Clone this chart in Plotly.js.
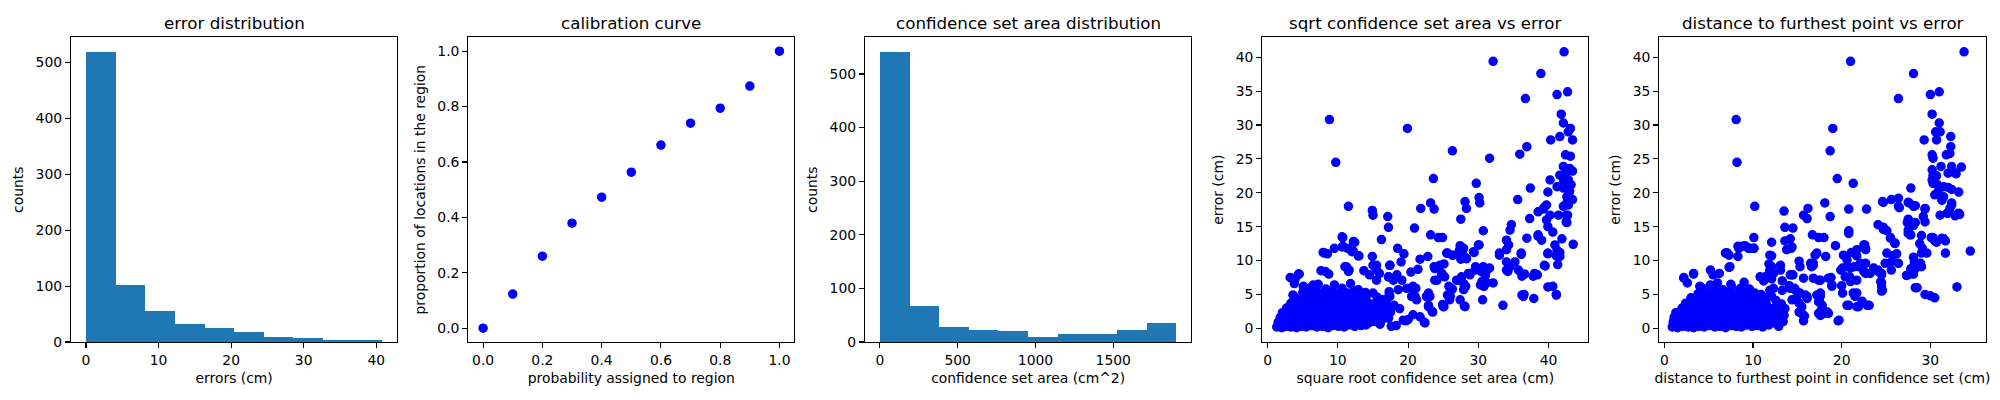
<!DOCTYPE html>
<html>
<head>
<meta charset="utf-8">
<script src="https://cdn.plot.ly/plotly-3.0.1.min.js"></script>
<style>html,body{margin:0;padding:0;background:#fff;}#chart{width:2000px;height:400px;}</style>
</head>
<body>
<div id="chart"></div>
<script>
// ---------- data ----------
const panelTitles = ["error distribution", "calibration curve", "confidence set area distribution", "sqrt confidence set area vs error", "distance to furthest point vs error"];

// Panel 1: histogram of errors (cm)
const errorBinEdges = [0.05, 4.12, 8.19, 12.26, 16.33, 20.40, 24.46, 28.53, 32.60, 36.67, 40.74];
const errorCounts = [519, 102, 55, 32, 25, 18, 9, 7, 4, 4];

// Panel 2: calibration curve
const probAssigned = [0.0, 0.1, 0.2, 0.3, 0.4, 0.5, 0.6, 0.7, 0.8, 0.9, 1.0];
const propInRegion = [0.0, 0.123, 0.26, 0.379, 0.473, 0.563, 0.661, 0.740, 0.794, 0.874, 1.0];

// Panel 3: histogram of confidence set area (cm^2)
const areaBinEdges = [0, 190.6, 381.2, 571.8, 762.4, 953.0, 1143.6, 1334.2, 1524.8, 1715.4, 1906.0];
const areaCounts = [541, 67, 28, 22, 20, 9, 15, 15, 22, 35];

// Panel 4: [sqrt confidence set area (cm), error (cm)]
const sqrtAreaVsError = [
[32.1,39.4],[42.2,40.8],[38.9,37.6],[41.2,34.5],[42.7,34.9],[36.7,33.9],[8.8,30.8],[19.9,29.5],[41.8,31.6],[42.1,30.3],
[43.1,29.5],[42.8,29.0],[41.6,28.3],[43.4,27.8],[40.3,27.8],[36.9,26.8],[26.3,26.2],[35.9,25.7],[31.6,25.1],[42.4,25.6],
[43.1,25.4],[9.7,24.5],[42.1,23.9],[43.0,23.6],[42.6,23.1],[43.4,23.2],[41.6,22.6],[42.3,22.4],[42.8,21.9],[42.1,21.6],
[42.6,21.2],[43.2,21.2],[42.1,20.7],[43.0,20.2],[42.6,19.4],[43.4,19.0],[42.6,18.5],[42.1,18.0],[23.6,22.1],[40.2,21.9],
[29.7,21.4],[41.2,20.9],[37.4,20.7],[39.9,20.1],[30.1,19.3],[30.2,18.5],[35.6,19.0],[28.1,18.7],[28.3,17.7],[23.2,18.5],
[23.7,17.6],[21.8,17.7],[11.5,18.0],[14.9,17.4],[15.0,16.7],[17.1,16.5],[39.7,18.2],[39.2,17.6],[38.5,17.2],[40.2,16.7],
[41.4,16.7],[42.7,16.7],[42.6,15.6],[37.3,16.2],[27.5,16.1],[17.2,14.9],[20.9,14.8],[30.7,14.4],[39.7,16.0],[39.9,15.0],
[40.6,14.2],[34.7,15.3],[34.5,14.5],[23.2,13.8],[24.3,13.4],[24.9,13.4],[10.7,13.4],[16.2,13.1],[12.4,12.7],[38.5,13.8],
[39.0,13.0],[36.9,13.3],[41.9,13.2],[43.5,12.4],[34.0,13.0],[34.3,12.3],[27.4,12.2],[27.3,11.5],[30.1,12.3],[10.7,12.1],
[11.4,11.8],[9.5,11.8],[8.1,11.1],[8.5,11.0],[18.5,11.8],[12.2,11.4],[40.9,12.3],[41.2,11.5],[41.6,11.2],[39.9,11.0],
[41.1,10.7],[41.6,10.6],[25.6,11.1],[26.3,10.8],[29.4,11.2],[36.1,10.9],[33.0,10.8],[19.4,11.0],[13.0,10.7],[14.9,10.6],
[22.8,10.6],[21.7,10.2],[28.0,10.6],[28.3,10.3],[27.5,10.2],[19.0,9.8],[17.4,9.3],[15.0,9.3],[15.5,8.6],[11.2,9.1],
[11.5,8.4],[29.6,9.1],[30.7,9.1],[31.2,8.6],[31.6,8.9],[34.0,9.8],[35.2,9.8],[34.5,9.1],[34.0,8.6],[35.7,8.6],
[39.5,9.2],[41.3,9.4],[25.1,9.5],[23.7,9.1],[24.0,8.9],[21.4,8.7],[13.7,8.5],[8.2,8.4],[15.9,8.1],[14.5,7.9],
[28.6,8.1],[24.8,8.1],[25.2,7.6],[36.2,7.7],[36.6,8.0],[38.0,8.1],[38.4,7.9],[20.4,8.3],[3.2,7.5],[3.9,7.2],
[4.5,8.0],[27.6,7.6],[27.4,7.1],[17.2,7.6],[17.9,7.1],[23.8,7.1],[30.8,7.1],[31.2,6.7],[32.1,6.7],[30.3,6.4],
[30.8,6.2],[25.8,6.2],[26.3,5.8],[20.7,6.2],[21.1,5.9],[6.5,6.4],[5.1,6.2],[39.9,6.1],[40.6,6.2],[28.2,6.2],
[27.9,5.7],[17.3,5.4],[17.3,4.9],[3.6,4.9],[41.1,5.0],[36.2,4.9],[36.4,4.7],[25.6,4.9],[26.0,4.7],[22.9,5.2],
[23.1,4.7],[21.0,4.7],[37.9,4.4],[30.6,4.2],[22.9,3.4],[24.9,3.5],[25.1,3.2],[33.5,3.4],[28.0,3.3],[23.5,2.4],
[20.0,1.3],[19.7,1.1],[22.3,0.9],[10.6,13.5],[12.2,12.8],[10.6,12.0],[7.9,11.2],[12.0,11.3],[12.9,10.7],[11.0,9.1],
[11.6,8.6],[7.6,8.5],[8.7,8.0],[4.4,8.0],[3.4,7.4],[3.8,6.6],[5.1,6.1],[3.7,4.8],[15.5,9.3],[17.4,9.3],
[15.5,7.1],[17.2,7.6],[18.4,7.9],[19.1,7.1],[18.6,5.7],[19.8,5.9],[20.7,5.9],[20.5,4.7],[21.2,4.2],[17.4,4.7],
[15.0,5.2],[16.9,3.7],[18.8,2.9],[20.7,2.0],[19.3,1.2],[21.7,1.7],[22.4,0.8],[16.0,0.7],[17.2,1.5],[15.0,2.2],
[22.9,3.2],[22.6,4.7],[24.1,7.1],[24.8,7.9],[23.8,8.8],[24.5,9.3],[25.5,11.1],[26.4,10.8],[27.4,10.8],[28.3,10.3],
[27.9,11.8],[29.3,11.3],[30.0,12.3],[29.5,8.6],[28.8,7.9],[27.9,6.6],[26.9,7.1],[26.2,5.7],[25.9,4.2],[27.4,4.2],
[28.1,3.2],[25.0,3.2],[23.4,2.5],[34.0,11.6],[33.0,11.1],[36.1,11.1],[34.2,8.4],[37.8,7.7],[39.4,9.3],[39.9,11.1],
[38.5,13.6],[41.1,4.9],[36.5,5.0],[30.4,8.4],[31.0,7.8],[30.5,6.9],[39.4,17.9],[42.5,16.7],[42.8,18.2],[42.5,15.7],
[1.3,0.2],[2.0,0.1],[2.6,0.3],[3.3,0.2],[4.1,0.1],[4.8,0.3],[5.5,0.2],[6.3,0.4],[7.0,0.2],[7.8,0.3],
[8.6,0.1],[9.3,0.4],[10.1,0.3],[10.9,0.2],[11.6,0.5],[12.4,0.3],[13.3,0.4],[14.0,0.5],[17.6,0.3],[18.3,0.4],
[1.5,0.9],[2.2,1.0],[2.9,0.8],[3.7,1.1],[4.4,0.9],[5.2,0.7],[5.9,1.0],[6.7,0.9],[7.4,1.2],[8.2,0.8],
[9.0,1.0],[9.7,0.9],[10.5,1.1],[11.3,0.8],[12.0,1.0],[12.8,0.9],[13.6,1.2],[14.4,0.8],[15.2,1.0],[16.0,0.6],
[1.8,1.6],[2.5,1.8],[3.2,1.5],[4.0,1.7],[4.7,1.6],[5.5,1.9],[6.2,1.4],[7.0,1.7],[7.7,1.8],[8.5,1.5],
[9.3,1.6],[10.0,1.9],[10.8,1.5],[11.6,1.7],[12.3,1.6],[13.1,1.8],[13.9,1.5],[14.7,1.7],[15.5,1.9],[16.4,1.4],[17.2,1.6],
[2.1,2.3],[2.8,2.1],[3.5,2.5],[4.3,2.2],[5.0,2.4],[5.8,2.3],[6.5,2.6],[7.3,2.2],[8.0,2.4],[8.8,2.5],
[9.6,2.3],[10.3,2.1],[11.1,2.6],[11.9,2.3],[12.6,2.4],[13.4,2.2],[14.2,2.5],[15.0,2.3],[15.8,2.1],[16.6,2.6],[17.5,2.4],
[2.7,3.0],[3.4,3.2],[4.1,2.9],[4.9,3.1],[5.6,3.0],[6.4,3.3],[7.1,2.9],[7.9,3.1],[8.7,3.2],[9.4,3.0],
[10.2,2.9],[11.0,3.3],[11.7,3.1],[12.5,3.0],[13.3,3.2],[14.1,2.9],[15.0,3.1],[15.9,3.0],[16.8,3.3],[18.0,3.4],
[3.3,3.7],[4.0,3.9],[4.8,3.6],[5.5,3.8],[6.3,3.7],[7.0,4.0],[7.8,3.6],[8.6,3.8],[9.3,3.9],[10.1,3.7],
[10.9,3.6],[11.6,3.9],[12.4,3.8],[13.2,3.7],[14.0,4.0],[14.9,3.6],[15.8,3.8],[16.4,4.2],
[3.9,4.5],[4.7,4.3],[5.4,4.6],[6.2,4.4],[6.9,4.7],[7.7,4.5],[8.5,4.3],[9.2,4.6],[10.0,4.4],[10.8,4.7],
[11.5,4.5],[12.3,4.3],[13.1,4.6],[14.0,4.4],[15.6,4.6],
[5.0,5.3],[5.8,5.1],[6.6,5.4],[7.4,5.2],[8.2,5.5],[9.0,5.3],[9.8,5.1],[10.6,5.4],[11.4,5.2],[12.3,5.5],[13.2,5.0],[13.9,5.3],
[6.1,6.0],[7.2,6.5],[8.3,5.8],[9.5,6.4],[10.6,5.9],[11.8,6.6],[12.9,5.7]
];

// Panel 5: [distance to furthest point in confidence set (cm), error (cm)]
const furthestVsError = [
[33.8,40.8],[21.0,39.4],[28.1,37.6],[26.4,33.9],[30.0,34.5],[31.0,34.9],[8.1,30.8],[19.0,29.5],[30.2,31.6],[31.0,30.3],
[31.1,29.0],[30.6,29.0],[32.3,28.3],[29.3,27.8],[30.7,27.8],[32.3,26.8],[32.2,25.8],[31.8,25.6],[18.7,26.2],[30.2,25.6],
[30.3,25.1],[8.2,24.5],[31.2,23.9],[32.4,23.9],[33.5,23.8],[32.6,23.1],[32.0,22.9],[32.9,22.8],[30.2,23.4],[30.3,22.6],
[30.7,22.5],[19.5,22.1],[21.3,21.4],[30.2,21.9],[30.3,21.4],[30.8,21.2],[31.5,20.9],[32.0,20.8],[32.4,20.5],[33.2,20.1],
[30.9,20.2],[27.8,20.7],[30.5,19.7],[31.3,19.0],[31.5,19.4],[24.6,18.7],[25.6,19.0],[26.4,19.2],[26.5,17.8],[22.8,17.6],
[20.8,17.6],[18.1,18.5],[10.2,18.0],[27.6,18.5],[28.3,18.1],[29.4,17.6],[32.4,18.5],[32.2,17.7],[31.9,17.0],[32.8,16.6],
[33.3,16.8],[31.1,16.7],[13.5,17.3],[15.7,16.7],[16.1,16.2],[16.2,17.7],[18.7,16.5],[29.2,16.5],[29.4,15.7],[27.4,15.6],
[28.1,15.2],[13.6,14.9],[14.5,14.8],[20.8,14.4],[24.7,14.9],[25.1,14.4],[27.5,14.5],[27.8,13.8],[16.7,13.8],[17.4,13.4],
[18.0,13.4],[10.1,13.4],[14.2,13.2],[13.6,12.9],[25.5,13.3],[26.0,12.5],[29.0,13.7],[30.3,13.4],[31.5,13.2],[31.7,12.9],
[30.5,12.9],[28.8,12.5],[29.1,11.8],[12.1,12.7],[22.6,12.3],[22.7,11.8],[19.3,12.2],[8.3,12.1],[9.1,12.2],[9.7,11.8],
[10.1,11.8],[14.3,11.8],[17.2,11.1],[17.0,10.8],[31.7,11.1],[7.0,11.1],[7.3,10.8],[21.1,11.2],[21.7,10.7],[34.5,11.4],
[12.1,10.7],[16.8,9.6],[16.6,9.1],[28.1,10.5],[28.2,9.8],[18.2,10.6],[26.2,11.0],[25.8,10.7],[25.6,9.8],[15.2,9.9],
[15.3,9.1],[11.8,9.5],[22.1,9.6],[28.5,9.3],[28.9,9.6],[28.1,9.1],[27.8,8.8],[24.1,8.6],[24.5,8.1],[20.1,8.9],
[20.6,9.1],[7.4,9.1],[21.4,9.1],[21.0,8.9],[11.9,8.6],[12.3,8.1],[11.7,7.9],[27.3,7.8],[28.1,8.0],[5.2,8.6],
[5.5,7.9],[14.2,7.9],[14.5,7.9],[10.8,7.6],[11.4,7.6],[11.2,7.0],[2.2,7.5],[2.6,6.7],[3.3,8.0],[18.8,7.5],
[16.8,7.4],[20.9,7.6],[22.7,8.1],[23.2,8.1],[17.4,7.1],[20.0,6.3],[24.4,6.9],[24.5,6.2],[24.6,5.6],[18.9,6.2],
[14.1,6.3],[14.7,5.9],[4.0,6.2],[5.2,6.4],[17.6,5.2],[17.6,4.8],[16.1,4.7],[28.3,6.0],[29.4,5.0],[30.0,4.8],
[30.5,4.5],[33.0,6.1],[20.1,5.2],[21.3,5.2],[21.5,4.7],[12.1,4.7],[14.9,4.4],[20.6,3.4],[21.7,3.2],[22.3,4.0],
[23.1,3.4],[17.5,4.0],[17.7,2.7],[18.1,2.5],[18.5,2.2],[17.4,2.2],[15.5,2.2],[15.8,1.8],[19.6,1.1],[13.4,1.0],
[15.7,1.1],[10.1,11.8],[9.5,11.8],[8.8,12.1],[8.4,11.8],[8.3,10.6],[7.1,11.1],[6.9,11.1],[7.3,9.0],[6.2,8.1],
[3.3,8.1],[2.2,7.4],[4.1,6.1],[14.4,12.0],[13.8,11.6],[11.9,10.8],[16.5,9.6],[16.8,9.3],[13.1,9.3],[13.1,8.6],
[12.1,9.1],[14.4,7.9],[15.7,7.4],[17.6,7.1],[18.5,7.4],[18.9,6.4],[13.3,7.0],[12.1,7.3],[12.3,5.9],[13.3,5.6],
[14.2,5.9],[14.8,5.6],[15.3,5.2],[15.9,4.9],[16.1,4.4],[14.4,4.2],[15.2,3.7],[15.5,3.2],[13.6,2.9],[15.2,2.4],
[15.7,1.9],[13.5,1.9],[13.1,1.0],[12.1,1.5],[17.2,4.9],[17.4,3.9],[17.8,3.4],[18.0,2.2],[17.6,1.9],[18.4,2.4],
[19.7,1.2],[19.9,8.6],[20.2,10.8],[20.6,10.1],[21.5,11.1],[21.7,11.6],[22.5,12.3],[22.7,11.6],[20.4,7.6],[21.0,6.9],
[21.7,7.1],[21.9,9.1],[22.7,9.6],[22.5,8.4],[23.6,8.9],[20.8,14.0],[21.7,5.2],[20.8,3.4],[21.9,3.2],[22.9,3.4],
[24.7,18.6],[26.4,18.0],[27.5,18.6],[28.1,18.0],[29.4,17.7],[31.3,18.9],[32.4,18.2],[32.0,17.0],[33.2,17.0],[27.5,16.1],
[28.3,15.6],[24.1,15.3],[24.7,14.6],[25.5,13.4],[26.0,12.6],[27.5,14.0],[27.7,13.8],[30.1,13.4],[30.7,12.7],[31.3,13.3],
[25.1,11.1],[24.9,9.6],[26.4,9.6],[25.6,8.6],[24.1,8.4],[24.5,7.9],[24.5,6.7],[24.5,5.5],[28.6,9.6],[29.0,9.1],
[28.3,8.8],[27.5,7.9],[29.0,11.1],[29.6,11.1],[28.5,6.0],
[0.9,0.2],[1.5,0.1],[2.1,0.3],[2.7,0.2],[3.3,0.1],[3.9,0.3],[4.5,0.2],[5.1,0.4],[5.7,0.2],[6.3,0.3],
[6.9,0.1],[7.5,0.4],[8.1,0.3],[8.7,0.2],[9.3,0.5],[9.9,0.3],[10.5,0.4],[11.1,0.2],[11.8,0.5],[12.9,0.3],
[1.0,0.9],[1.6,1.0],[2.2,0.8],[2.8,1.1],[3.4,0.9],[4.0,0.7],[4.6,1.0],[5.2,0.9],[5.8,1.2],[6.4,0.8],
[7.0,1.0],[7.6,0.9],[8.2,1.1],[8.8,0.8],[9.4,1.0],[10.0,0.9],[10.6,1.2],[11.2,0.8],[11.9,1.0],[12.6,0.7],
[1.1,1.6],[1.7,1.8],[2.3,1.5],[2.9,1.7],[3.5,1.6],[4.1,1.9],[4.7,1.4],[5.3,1.7],[5.9,1.8],[6.5,1.5],
[7.1,1.6],[7.7,1.9],[8.3,1.5],[8.9,1.7],[9.5,1.6],[10.1,1.8],[10.7,1.5],[11.4,1.7],[12.1,1.9],[12.8,1.4],
[1.3,2.3],[1.9,2.1],[2.5,2.5],[3.1,2.2],[3.7,2.4],[4.3,2.3],[4.9,2.6],[5.5,2.2],[6.1,2.4],[6.7,2.5],
[7.3,2.3],[7.9,2.1],[8.5,2.6],[9.1,2.3],[9.7,2.4],[10.3,2.2],[10.9,2.5],[11.6,2.3],[12.3,2.1],[13.0,2.6],
[2.0,3.0],[2.6,3.2],[3.2,2.9],[3.8,3.1],[4.4,3.0],[5.0,3.3],[5.6,2.9],[6.2,3.1],[6.8,3.2],[7.4,3.0],
[8.0,2.9],[8.6,3.3],[9.2,3.1],[9.8,3.0],[10.4,3.2],[11.0,2.9],[11.7,3.1],[12.4,3.0],[13.2,3.6],
[2.4,3.7],[3.0,3.9],[3.6,3.6],[4.2,3.8],[4.8,3.7],[5.4,4.0],[6.0,3.6],[6.6,3.8],[7.2,3.9],[7.8,3.7],
[8.4,3.6],[9.0,3.9],[9.6,3.8],[10.2,3.7],[10.8,4.0],[11.5,3.6],[12.6,4.1],
[3.0,4.5],[3.7,4.3],[4.4,4.6],[5.1,4.4],[5.8,4.7],[6.5,4.5],[7.2,4.3],[7.9,4.6],[8.6,4.4],[9.3,4.7],[10.0,4.5],[10.7,4.3],[11.6,4.6],
[3.8,5.1],[4.6,5.3],[5.4,5.0],[6.2,5.2],[7.0,5.4],[7.8,5.1],[8.6,5.3],[9.4,5.0],[10.2,5.2],[10.9,5.0],
[4.6,5.8],[5.6,6.0],[6.6,5.7],[7.6,6.1],[8.6,5.9],[9.6,5.8],[6.0,6.7],[7.5,6.5],[9.0,6.8],[11.9,5.6]
];

// ---------- build traces ----------
function histTrace(edges, counts, xa, ya) {
  const centers = [], widths = [];
  for (let i = 0; i < counts.length; i++) {
    centers.push((edges[i] + edges[i + 1]) / 2);
    widths.push(edges[i + 1] - edges[i]);
  }
  return {type: 'bar', x: centers, y: counts, width: widths, xaxis: xa, yaxis: ya,
          marker: {color: '#1f77b4', line: {width: 0}}, hoverinfo: 'x+y'};
}
function dotTrace(xs, ys, xa, ya) {
  return {type: 'scatter', mode: 'markers', x: xs, y: ys, xaxis: xa, yaxis: ya,
          marker: {color: '#0000ff', size: 8.3, line: {color: '#0000ff', width: 1.2}}};
}
const traces = [
  histTrace(errorBinEdges, errorCounts, 'x', 'y'),
  dotTrace(probAssigned, propInRegion, 'x2', 'y2'),
  histTrace(areaBinEdges, areaCounts, 'x3', 'y3'),
  dotTrace(sqrtAreaVsError.map(p => p[0]), sqrtAreaVsError.map(p => p[1]), 'x4', 'y4'),
  dotTrace(furthestVsError.map(p => p[0]), furthestVsError.map(p => p[1]), 'x5', 'y5')
];

// ---------- layout ----------
const FONT = 'DejaVu Sans, Liberation Sans, sans-serif';
const W = 2000, H = 400;
const boxes = [[71, 397.3], [468.3, 794.3], [865, 1191.3], [1262.3, 1588.3], [1659.3, 1985.7]];
const yTop = 37.3, yBot = 342;
const yDom = [1 - yBot / H, 1 - yTop / H];

function axis(extra) {
  return Object.assign({
    showgrid: false, zeroline: false, showline: true, mirror: true,
    linecolor: 'black', linewidth: 1.1, ticks: 'outside', ticklen: 5, tickwidth: 1.1, tickcolor: 'black',
    tickfont: {family: FONT, size: 13.9, color: 'black'}, automargin: false, fixedrange: true
  }, extra);
}
function ttl(text, standoff) {
  return {text: text, font: {family: FONT, size: 13.9, color: 'black'}, standoff: standoff};
}

const xTitles = ["errors (cm)", "probability assigned to region", "confidence set area (cm^2)", "square root confidence set area (cm)", "distance to furthest point in confidence set (cm)"];
const yTitles = ["counts", "proportion of locations in the region", "counts", "error (cm)", "error (cm)"];
const xRanges = [[-2.07, 42.9], [-0.05, 1.05], [-95.3, 2001.3], [-0.76, 45.65], [-0.564, 36.24]];
const yRanges = [[0, 545.3], [-0.05, 1.05], [0, 568.4], [-2.02, 42.95], [-2.02, 42.95]];
const xTicks = [[0, 10, 20, 30, 40], [0, 0.2, 0.4, 0.6, 0.8, 1.0], [0, 500, 1000, 1500], [0, 10, 20, 30, 40], [0, 10, 20, 30]];
const yTicks = [[0, 100, 200, 300, 400, 500], [0, 0.2, 0.4, 0.6, 0.8, 1.0], [0, 100, 200, 300, 400, 500], [0, 5, 10, 15, 20, 25, 30, 35, 40], [0, 5, 10, 15, 20, 25, 30, 35, 40]];
const fmt = ['', '.1f', '', '', ''];

const layout = {
  width: W, height: H, margin: {l: 0, r: 0, t: 0, b: 0},
  paper_bgcolor: 'white', plot_bgcolor: 'white', showlegend: false, bargap: 0,
  font: {family: FONT, color: 'black'}, annotations: []
};
for (let i = 0; i < 5; i++) {
  const s = i === 0 ? '' : String(i + 1);
  const xd = [boxes[i][0] / W, boxes[i][1] / W];
  layout['xaxis' + s] = axis({domain: xd, anchor: 'y' + s, range: xRanges[i], tickvals: xTicks[i], tickformat: fmt[i],
                              title: ttl(xTitles[i], 6)});
  layout['yaxis' + s] = axis({domain: yDom, anchor: 'x' + s, range: yRanges[i], tickvals: yTicks[i], tickformat: fmt[i],
                              title: ttl(yTitles[i], 8)});
  layout.annotations.push({text: panelTitles[i], xref: 'paper', yref: 'paper', x: (xd[0] + xd[1]) / 2, y: 1 - 23.5 / H,
                           xanchor: 'center', yanchor: 'middle', showarrow: false,
                           font: {family: FONT, size: 16.7, color: 'black'}});
}

Plotly.newPlot('chart', traces, layout, {staticPlot: true, displayModeBar: false});
</script>
</body>
</html>
